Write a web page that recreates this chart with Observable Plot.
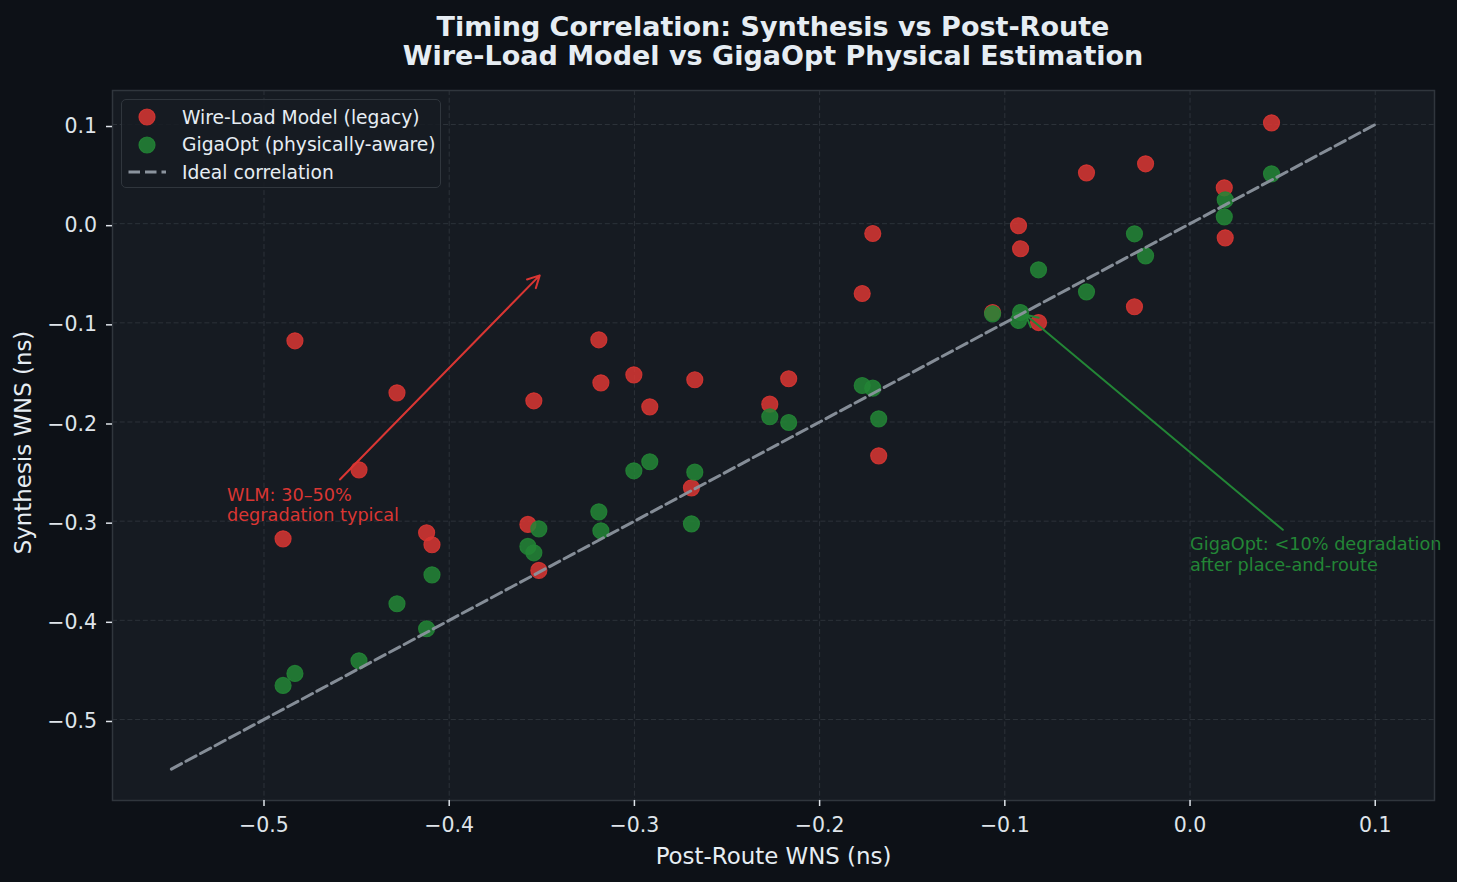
<!DOCTYPE html>
<html>
<head>
<meta charset="utf-8">
<script src="https://cdn.jsdelivr.net/npm/d3@7"></script>
<script src="https://cdn.jsdelivr.net/npm/@observablehq/plot@0.6"></script>
<style>
  html, body { margin: 0; padding: 0; background: #0d1117; }
  #fig { position: relative; width: 1457px; height: 882px; background: #0d1117; overflow: hidden;
         font-family: "DejaVu Sans", sans-serif; color: #e6edf3; }
  #title { position: relative; width: 1457px; height: 80px; }
  #title .line { position: absolute; left: 0; width: 1546px; text-align: center; font-weight: bold;
                 font-size: 27px; line-height: 30px; color: #e6edf3; white-space: nowrap; }
  #legend { position: absolute; left: 121px; top: 99px; width: 320px; height: 89px; box-sizing: border-box;
            border: 1.5px solid #30363d; border-radius: 5px; background: rgba(22, 27, 34, 0.85); }
  #legend .row { position: absolute; left: 0; height: 26px; display: flex; align-items: center;
                 font-size: 18.7px; color: #e6edf3; white-space: nowrap; }
  #legend svg { display: block; }
  #chart svg { display: block; }
</style>
</head>
<body>
<div id="fig">
  <div id="title"></div>
  <div id="chart"></div>
  <div id="legend"></div>
</div>
<script>
// ---- Chart text ----
const titleLines = [
  "Timing Correlation: Synthesis vs Post-Route",
  "Wire-Load Model vs GigaOpt Physical Estimation"
];
const xLabel = "Post-Route WNS (ns)";
const yLabel = "Synthesis WNS (ns)";

// ---- Series ----
const seriesNames = ["Wire-Load Model (legacy)", "GigaOpt (physically-aware)"];
const seriesColors = ["#da3633", "#238636"];
const idealLabel = "Ideal correlation";
const idealColor = "#8b949e";

// ---- Designs: post-route WNS and the two synthesis estimates (ns) ----
const postRouteWNS = [
  -0.4897, -0.4833, -0.4487, -0.4282, -0.4122, -0.4093, -0.3575, -0.3543, -0.3516, -0.3192,
  -0.3181, -0.3003, -0.2917, -0.2692, -0.2674, -0.2269, -0.2167, -0.1770, -0.1713, -0.1681,
  -0.1066, -0.0926, -0.0915, -0.0818, -0.0559, -0.0300, -0.0240, 0.0185, 0.0190, 0.0440
];
const wlmSynthWNS = [
  -0.3178, -0.1181, -0.2482, -0.1706, -0.3117, -0.3238, -0.3033, -0.1786, -0.3497, -0.1171,
  -0.1605, -0.1524, -0.1847, -0.2664, -0.1574, -0.1820, -0.1564, -0.0704, -0.0099, -0.2341,
  -0.0896, -0.0021, -0.0253, -0.0997, 0.0513, -0.0838, 0.0604, 0.0362, -0.0143, 0.1017
];
const gigaSynthWNS = [
  -0.4657, -0.4536, -0.4408, -0.3833, -0.4085, -0.3541, -0.3255, -0.3319, -0.3077, -0.2906,
  -0.3097, -0.2492, -0.2401, -0.3027, -0.2506, -0.1947, -0.2005, -0.1632, -0.1659, -0.1968,
  -0.0909, -0.0976, -0.0896, -0.0465, -0.0687, -0.0102, -0.0324, 0.0069, 0.0241, 0.0503
];

// ---- Ideal y = x reference ----
const idealX = [-0.55, 0.1];

// ---- Axis ticks ----
const xTicks = [-0.5, -0.4, -0.3, -0.2, -0.1, 0.0, 0.1];
const yTicks = [-0.5, -0.4, -0.3, -0.2, -0.1, 0.0, 0.1];

// ---- Annotations ----
const annText = ["WLM: 30\u201350%\ndegradation typical", "GigaOpt: <10% degradation\nafter place-and-route"];
const annTextX = [-0.52, 0.0];
const annTextY = [-0.30, -0.35];
const annTailX = [-0.459, 0.0501];
const annTailY = [-0.258, -0.3087];
const annTipX = [-0.35, -0.09];
const annTipY = [-0.05, -0.09];

// ---- Tables built from the arrays ----
const designs = postRouteWNS.map((x, i) => ({post: x, wlm: wlmSynthWNS[i], giga: gigaSynthWNS[i]}));
const ideal = idealX.map(v => ({x: v, y: v}));
const notes = annText.map((t, i) => ({
  text: t, tx: annTextX[i], ty: annTextY[i],
  x1: annTailX[i], y1: annTailY[i], x2: annTipX[i], y2: annTipY[i], color: seriesColors[i]
}));

const fmt = d3.format(".1f");
const gridStyle = {stroke: "#30363d", strokeOpacity: 0.85, strokeDasharray: "5,2.7", strokeWidth: 1};
const dotStyle = (c) => ({r: 8, fill: c, fillOpacity: 0.85, stroke: c, strokeOpacity: 0.85, strokeWidth: 1.2});

const chart = Plot.plot({
  width: 1457,
  height: 802,
  marginTop: 10,
  marginBottom: 82,
  marginLeft: 112,
  marginRight: 23,
  style: {background: "transparent", fontFamily: "DejaVu Sans, sans-serif", color: "#e6edf3", overflow: "visible"},
  x: {domain: [-0.5818, 0.132]},
  y: {domain: [-0.5817, 0.1343]},
  marks: [
    Plot.frame({fill: "#161b22"}),
    Plot.gridX(xTicks, gridStyle),
    Plot.gridY(yTicks, gridStyle),
    Plot.dot(designs, {x: "post", y: "wlm", ...dotStyle(seriesColors[0])}),
    Plot.dot(designs, {x: "post", y: "giga", ...dotStyle(seriesColors[1])}),
    Plot.line(ideal, {x: "x", y: "y", stroke: idealColor, strokeWidth: 3, strokeDasharray: "11.5,5", strokeOpacity: 0.95}),
    Plot.arrow(notes, {x1: "x1", y1: "y1", x2: "x2", y2: "y2", stroke: "color", strokeWidth: 2,
                       headLength: 10, headAngle: 55, insetEnd: 3}),
    Plot.text(notes, {x: "tx", y: "ty", text: "text", fill: "color", fontSize: 17.7,
                      textAnchor: "start", lineAnchor: "bottom", lineHeight: 1.15}),
    Plot.frame({stroke: "#30363d", strokeWidth: 1.5}),
    Plot.axisX(xTicks, {tickFormat: fmt, tickSize: 6, tickPadding: 11, fontSize: 20.5,
                        color: "#dfe4ea", strokeWidth: 1.5, label: null}),
    Plot.axisY(yTicks, {tickFormat: fmt, tickSize: 6, tickPadding: 9.5, fontSize: 20.5, dy: 2,
                        color: "#dfe4ea", strokeWidth: 1.5, label: null}),
    Plot.text([xLabel], {text: d => d, frameAnchor: "bottom", lineAnchor: "bottom", dy: 63,
                         fontSize: 22.9, fill: "#e6edf3"}),
    Plot.text([yLabel], {text: d => d, frameAnchor: "left", textAnchor: "middle", lineAnchor: "bottom",
                         rotate: -90, dx: -82, dy: -3, fontSize: 22.9, fill: "#e6edf3"})
  ]
});
document.getElementById("chart").appendChild(chart);

// ---- Title ----
const title = document.getElementById("title");
titleLines.forEach((t, i) => {
  const el = document.createElement("div");
  el.className = "line";
  el.style.top = (12 + i * 29) + "px";
  el.textContent = t;
  title.appendChild(el);
});

// ---- Legend ----
const legend = document.getElementById("legend");
const ns = "http://www.w3.org/2000/svg";
const rows = [
  {label: seriesNames[0], kind: "dot", color: seriesColors[0]},
  {label: seriesNames[1], kind: "dot", color: seriesColors[1]},
  {label: idealLabel, kind: "dash", color: idealColor}
];
rows.forEach((r, i) => {
  const row = document.createElement("div");
  row.className = "row";
  row.style.top = (4 + i * 27.5) + "px";
  const sw = document.createElementNS(ns, "svg");
  sw.setAttribute("width", 58);
  sw.setAttribute("height", 26);
  if (r.kind === "dot") {
    const c = document.createElementNS(ns, "circle");
    c.setAttribute("cx", 25); c.setAttribute("cy", 13); c.setAttribute("r", 8);
    c.setAttribute("fill", r.color); c.setAttribute("fill-opacity", 0.85);
    c.setAttribute("stroke", r.color); c.setAttribute("stroke-opacity", 0.85); c.setAttribute("stroke-width", 1.2);
    sw.appendChild(c);
  } else {
    const l = document.createElementNS(ns, "line");
    l.setAttribute("x1", 6.5); l.setAttribute("x2", 44); l.setAttribute("y1", 13); l.setAttribute("y2", 13);
    l.setAttribute("stroke", r.color); l.setAttribute("stroke-width", 3); l.setAttribute("stroke-dasharray", "11.5,5");
    sw.appendChild(l);
  }
  row.appendChild(sw);
  const span = document.createElement("span");
  span.textContent = r.label;
  span.style.marginLeft = "2px";
  row.appendChild(span);
  legend.appendChild(row);
});
</script>
</body>
</html>
